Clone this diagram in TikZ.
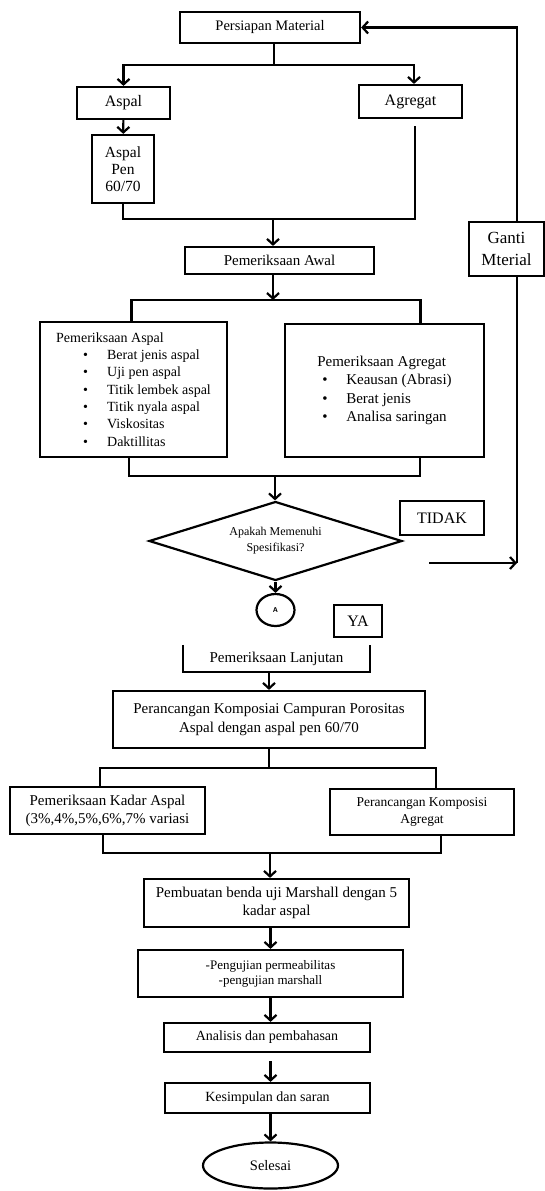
\documentclass[tikz,border=0pt]{standalone}
\usepackage{fontspec}
\setmainfont{Liberation Serif}
\usetikzlibrary{arrows.meta}
\usetikzlibrary{calc}
\usetikzlibrary{shapes.geometric}

\newcommand{\butir}[2]{\hspace*{#1pt}\makebox[24pt][l]{\textbullet}#2}

\begin{document}
\begin{tikzpicture}[x=1pt, y=-1pt,
        box_style/.style={rectangle, draw=black, line width=2.2pt, inner sep=2pt, align=center},
        open_style/.style={rectangle, inner sep=2pt, align=center},
        edge_style/.style={draw=black, line width=2.2pt, -{Straight Barb[length=5.5pt,width=12pt]}},
        line_style/.style={draw=black, line width=2.2pt}]

        \useasboundingbox (0,0) rectangle (545,1191);

        \node [box_style, minimum width=180pt, minimum height=31pt, font=\fontsize{14.5}{17}\selectfont] (persiapan) at (270,27.5) {Persiapan Material};

        \node [box_style, minimum width=93pt, minimum height=32pt, font=\fontsize{16}{19}\selectfont] (aspal) at (123.5,103) {Aspal};

        \node [box_style, minimum width=103pt, minimum height=33pt, font=\fontsize{16}{19}\selectfont] (agregat) at (410.5,101.5) {Agregat};

        \node [box_style, minimum width=62pt, minimum height=68pt, font=\fontsize{15.5}{17}\selectfont] (aspalpen) at (123,169) {Aspal\\Pen\\60/70};

        \node [box_style, minimum width=75pt, minimum height=54pt, font=\fontsize{17}{22}\selectfont] (ganti) at (506.5,249) {Ganti\\Mterial};

        \node [box_style, minimum width=189pt, minimum height=27pt, font=\fontsize{15}{18}\selectfont] (awal) at (279.5,260.5) {Pemeriksaan Awal};

        \node [box_style, minimum width=187pt, minimum height=135pt, align=left, font=\fontsize{14}{17.3}\selectfont] (cekaspal) at (133.5,389.5) {Pemeriksaan Aspal\\
            \butir{27}{Berat jenis aspal}\\
            \butir{27}{Uji pen aspal}\\
            \butir{27}{Titik lembek aspal}\\
            \butir{27}{Titik nyala aspal}\\
            \butir{27}{Viskositas}\\
            \butir{27}{Daktillitas}};

        \node [box_style, minimum width=199pt, minimum height=133pt, align=left, font=\fontsize{15}{18.6}\selectfont] (cekagregat) at (384.5,390.5) {Pemeriksaan Agregat\\
            \butir{5}{Keausan (Abrasi)}\\
            \butir{5}{Berat jenis}\\
            \butir{5}{Analisa saringan}};

        \node [diamond, draw=black, line width=2.2pt, aspect=3.2, inner sep=0pt, minimum width=253pt, minimum height=79pt, align=center, font=\fontsize{12}{16}\selectfont] (spek) at (275.5,541) {Apakah Memenuhi\\Spesifikasi?};

        \node [box_style, minimum width=84pt, minimum height=34pt, font=\fontsize{16}{19}\selectfont] (tidak) at (442,518) {TIDAK};

        \node [ellipse, draw=black, line width=2.2pt, inner sep=0pt, minimum width=38pt, minimum height=32pt, font=\sffamily\bfseries\fontsize{7}{8}\selectfont] (konektor) at (275.5,610) {A};

        \node [box_style, minimum width=48pt, minimum height=32pt, font=\fontsize{16}{19}\selectfont] (ya) at (358,621) {YA};

        \node [open_style, minimum width=187pt, minimum height=27pt, font=\fontsize{15}{18}\selectfont] (lanjutan) at (276.5,658.5) {Pemeriksaan Lanjutan};

        \node [box_style, minimum width=312pt, minimum height=57pt, font=\fontsize{15}{19}\selectfont] (rancang) at (269,719.5) {Perancangan Komposiai Campuran Porositas\\Aspal dengan aspal pen 60/70};

        \node [box_style, minimum width=195pt, minimum height=47pt, font=\fontsize{15}{18}\selectfont] (kadar) at (107.5,810.5) {Pemeriksaan Kadar Aspal\\(3\%,4\%,5\%,6\%,7\% variasi};

        \node [box_style, minimum width=184pt, minimum height=46pt, font=\fontsize{13.5}{17}\selectfont] (komposisi) at (422,812) {Perancangan Komposisi\\Agregat};

        \node [box_style, minimum width=265pt, minimum height=48pt, font=\fontsize{15}{18}\selectfont] (pembuatan) at (276.5,903) {Pembuatan benda uji Marshall dengan 5\\kadar aspal};

        \node [box_style, minimum width=265pt, minimum height=47pt, font=\fontsize{13}{15}\selectfont] (pengujian) at (270.5,973.5) {-Pengujian permeabilitas\\-pengujian marshall};

        \node [box_style, minimum width=206pt, minimum height=29pt, font=\fontsize{14}{17}\selectfont] (analisis) at (267,1037.5) {Analisis dan pembahasan};

        \node [box_style, minimum width=205pt, minimum height=30pt, font=\fontsize{14}{17}\selectfont] (kesimpulan) at (267.5,1098) {Kesimpulan dan saran};

        \node [ellipse, draw=black, line width=2.2pt, inner sep=0pt, minimum width=135pt, minimum height=46pt, font=\fontsize{14.5}{17}\selectfont] (selesai) at (270.5,1165.5) {Selesai};

        % kotak terbuka pemeriksaan lanjutan
        \draw [line_style] (lanjutan.north west) -- (lanjutan.south west) -- (lanjutan.south east) -- (lanjutan.north east);

        % cabang ke aspal dan agregat
        \coordinate (split1) at (274,65);
        \draw [line_style] (persiapan.south -| split1) -- (split1);
        \draw [edge_style] (split1) -| (aspal.north);
        \draw [edge_style] (split1) -| ([xshift=3.5pt]agregat.north);

        \draw [edge_style] (aspal) -- (aspalpen);

        % gabung ke pemeriksaan awal
        \coordinate (merge1) at (273,219);
        \draw [line_style] (aspalpen.south) |- (merge1);
        \draw [line_style, shorten <=7pt] ([xshift=4.5pt]agregat.south) |- (merge1);
        \draw [edge_style] (merge1) -- (merge1 |- awal.north);

        % cabang ke pemeriksaan aspal dan agregat
        \coordinate (split2) at (273,300);
        \draw [edge_style] (awal.south -| split2) -- (split2);
        \draw [line_style] (split2) -| ([xshift=-2pt]cekaspal.north);
        \draw [line_style] (split2) -| ([xshift=36pt]cekagregat.north);

        % gabung ke spesifikasi
        \coordinate (merge2) at (275,476);
        \draw [line_style] ([xshift=-4.5pt]cekaspal.south) |- (merge2);
        \draw [line_style] ([xshift=35.5pt]cekagregat.south) |- (merge2);
        \draw [edge_style] (merge2) -- (merge2 |- spek.north);

        \draw [edge_style] (spek.south) -- (konektor.north);

        % jalur tidak ke ganti material
        \coordinate (tidak_awal) at (429,563);
        \coordinate (tidak_sudut) at (517,563);
        \draw [edge_style] (tidak_awal) -- (tidak_sudut);
        \draw [line_style] (tidak_sudut) -- (tidak_sudut |- ganti.south);
        \draw [edge_style] (tidak_sudut |- ganti.north) |- (persiapan.east);

        \draw [edge_style] (lanjutan.south -| rancang) -- (rancang.north);

        % cabang kadar aspal dan komposisi
        \coordinate (split3) at (269,768);
        \draw [line_style] (rancang.south) -- (split3);
        \draw [line_style] (split3) -| ([xshift=-7.5pt]kadar.north);
        \draw [line_style] (split3) -| ([xshift=14pt]komposisi.north);

        \coordinate (merge3) at (270,853);
        \draw [line_style] ([xshift=-4.5pt]kadar.south) |- (merge3);
        \draw [line_style] ([xshift=19pt]komposisi.south) |- (merge3);
        \draw [edge_style] (merge3) -- (merge3 |- pembuatan.north);

        \draw [edge_style] (pembuatan.south -| pengujian) -- (pengujian.north);
        \draw [edge_style] (pengujian.south) -- (pengujian.south |- analisis.north);
        \draw [edge_style, shorten <=8pt] (analisis.south -| pengujian) -- (pengujian |- kesimpulan.north);
        \draw [edge_style] (kesimpulan.south -| selesai) -- (selesai.north);

        \end{tikzpicture}
\end{document}
